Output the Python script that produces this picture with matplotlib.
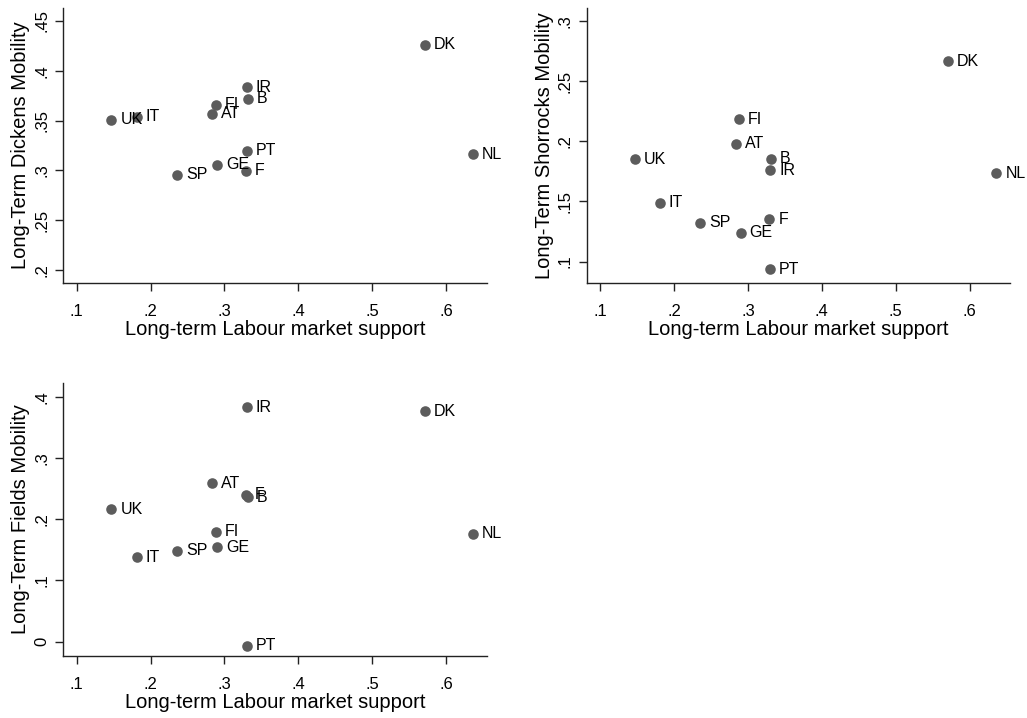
import matplotlib
matplotlib.use('Agg')
import matplotlib.pyplot as plt

plt.rcParams['font.family'] = ['Liberation Sans', 'DejaVu Sans']

countries = ['UK', 'IT', 'FI', 'AT', 'IR', 'B', 'PT', 'GE', 'F', 'SP', 'DK', 'NL']
labour_support = [0.147, 0.181, 0.288, 0.2835, 0.330, 0.3314, 0.330, 0.290, 0.329, 0.2357, 0.571, 0.636]

dickens = [0.3506, 0.3539, 0.3657, 0.3566, 0.3834, 0.3717, 0.3198, 0.3054, 0.2997, 0.2954, 0.4259, 0.3162]
shorrocks = [0.185, 0.149, 0.2183, 0.198, 0.1759, 0.1853, 0.0936, 0.124, 0.1354, 0.1323, 0.2667, 0.1736]
fields = [0.2161, 0.1377, 0.1796, 0.2586, 0.3826, 0.2357, -0.0065, 0.1541, 0.2395, 0.1486, 0.3766, 0.1758]

x_ticks = [0.1, 0.2, 0.3, 0.4, 0.5, 0.6]
x_ticklabels = ['.1', '.2', '.3', '.4', '.5', '.6']

dickens_ticks = [0.2, 0.25, 0.3, 0.35, 0.4, 0.45]
dickens_ticklabels = ['.2', '.25', '.3', '.35', '.4', '.45']
shorrocks_ticks = [0.1, 0.15, 0.2, 0.25, 0.3]
shorrocks_ticklabels = ['.1', '.15', '.2', '.25', '.3']
fields_ticks = [0.0, 0.1, 0.2, 0.3, 0.4]
fields_ticklabels = ['0', '.1', '.2', '.3', '.4']

marker_color = '#5c5c5c'
axis_color = '#222222'

fig = plt.figure(figsize=(10.27, 7.18), dpi=100)


def panel(rect, yvals, yticks, yticklabels, ylim, ylabel):
    ax = fig.add_axes(rect)
    ax.scatter(labour_support, yvals, s=58, color=marker_color, zorder=3, linewidths=0)
    for name, x, y in zip(countries, labour_support, yvals):
        ax.annotate(name, (x, y), xytext=(6.5, 0), textcoords='offset points',
                    ha='left', va='center', fontsize=11.5, color='black')
    ax.set_xlim(0.0819, 0.6548)
    ax.set_ylim(*ylim)
    ax.set_xticks(x_ticks)
    ax.set_xticklabels(x_ticklabels)
    ax.set_yticks(yticks)
    ax.set_yticklabels(yticklabels, rotation=90, va='center')
    for side in ['top', 'right']:
        ax.spines[side].set_visible(False)
    for side in ['left', 'bottom']:
        ax.spines[side].set_color(axis_color)
        ax.spines[side].set_linewidth(1)
    ax.tick_params(axis='both', length=6, width=1, color=axis_color, labelsize=12)
    ax.tick_params(axis='x', pad=9)
    ax.tick_params(axis='y', pad=4)
    ax.set_xlabel('Long-term Labour market support', fontsize=14.5, labelpad=1)
    ax.set_ylabel(ylabel, fontsize=14.5, labelpad=3)
    return ax


panel([0.0616, 0.6063, 0.4123, 0.3826], dickens, dickens_ticks, dickens_ticklabels,
      (0.1872, 0.463), 'Long-Term Dickens Mobility')
panel([0.5713, 0.6063, 0.4123, 0.3826], shorrocks, shorrocks_ticks, shorrocks_ticklabels,
      (0.0825, 0.3108), 'Long-Term Shorrocks Mobility')
panel([0.0616, 0.0868, 0.4123, 0.3794], fields, fields_ticks, fields_ticklabels,
      (-0.0229, 0.4219), 'Long-Term Fields Mobility')

fig.savefig('out.png', dpi=100)
